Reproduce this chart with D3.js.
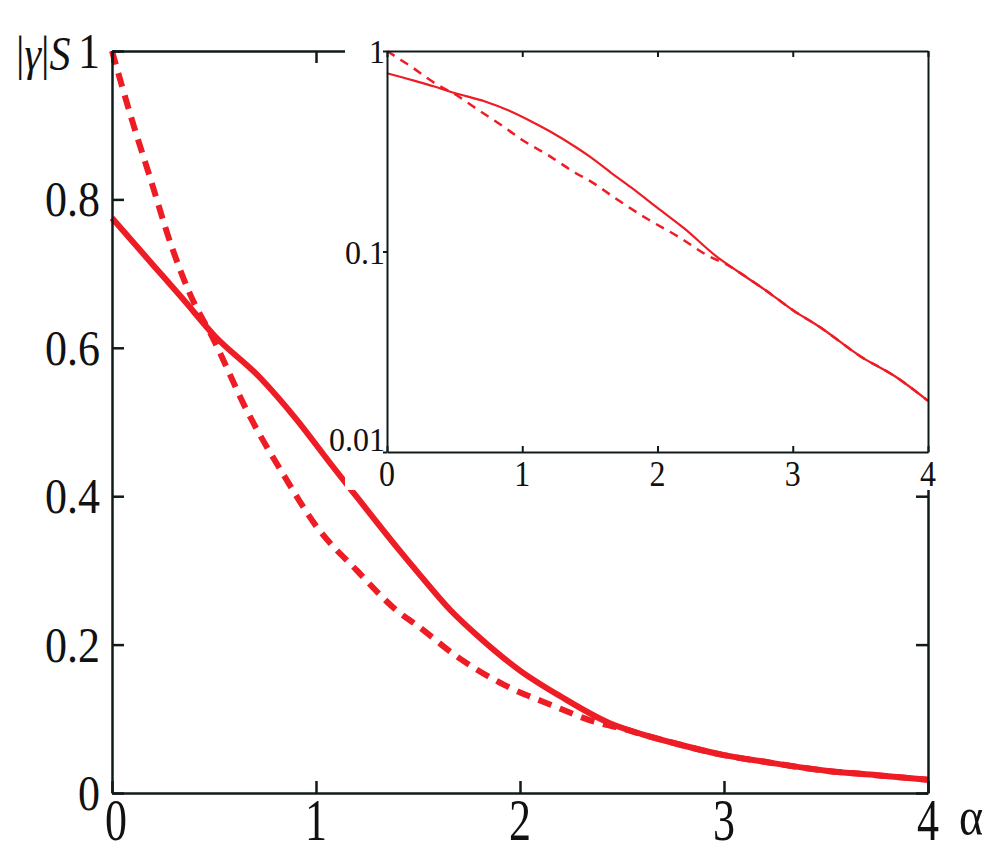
<!doctype html>
<html>
<head>
<meta charset="utf-8"/>
<style>
  html, body { margin: 0; padding: 0; background: #fff; }
  svg { display: block; }
</style>
<script src="https://d3js.org/d3.v7.min.js"></script>
</head>
<body>
<svg id="chart" width="1004" height="856"></svg>
<script>
  // alpha grid and the two curves
  var alphaSolid = [0, 0.2, 0.35, 0.5, 0.725, 0.9, 1.085, 1.2, 1.4, 1.5, 1.657, 1.8, 2.0, 2.2, 2.44, 2.6, 2.8, 3.0, 3.2, 3.5, 3.75, 4.0];
  var gammaSolid = [0.775, 0.712, 0.665, 0.617, 0.56, 0.505, 0.439, 0.399, 0.33, 0.297, 0.247, 0.21, 0.165, 0.13, 0.094, 0.079, 0.064, 0.051, 0.042, 0.030, 0.024, 0.018];

  var alphaDashed = [0, 0.1, 0.186, 0.293, 0.38, 0.5, 0.66, 0.856, 1.0, 1.2, 1.4, 1.5, 1.68, 1.92, 2.15, 2.39, 2.5, 2.6, 2.8, 3.0, 3.2, 3.5, 3.75, 4.0];
  var gammaDashed = [1.0, 0.905, 0.83, 0.736, 0.674, 0.61, 0.516, 0.422, 0.36, 0.30, 0.245, 0.225, 0.186, 0.146, 0.119, 0.094, 0.087, 0.079, 0.064, 0.051, 0.042, 0.030, 0.024, 0.018];

  var xTicks = [0, 1, 2, 3, 4];
  var yTicksMain = [0, 0.2, 0.4, 0.6, 0.8, 1];
  var yTicksInset = [0.01, 0.1, 1];

  var red = "#ee1c25";
  var ink = "#111a1a";

  // pick the first serif face that is really installed
  var ctx = document.createElement("canvas").getContext("2d");
  function widthIn(f) { ctx.font = "40px " + f; return ctx.measureText("0.18 αγS Wmw").width; }
  var fallback = widthIn("monospace");
  var serifFace = ["Liberation Serif", "Times New Roman", "Tinos", "DejaVu Serif"].find(function(f) {
    return widthIn("'" + f + "', monospace") !== fallback;
  }) || "serif";
  var fontFamily = "'" + serifFace + "', serif";

  var svg = d3.select("#chart");
  svg.append("rect").attr("width", 1004).attr("height", 856).attr("fill", "#fff");

  function zip(xs, ys) { return xs.map(function(a, i) { return [a, ys[i]]; }); }
  var solid = zip(alphaSolid, gammaSolid);
  var dashed = zip(alphaDashed, gammaDashed);

  // labels in the source are a little stretched vertically
  function stretched(g, px, py, sy, size, anchor, txt) {
    return g.append("text")
        .attr("transform", "translate(" + px + "," + py + ") scale(1," + sy + ")")
        .style("font-family", fontFamily).attr("fill", "#111")
        .attr("text-anchor", anchor).attr("font-size", size).text(txt);
  }

  // ---------- main plot ----------
  var x = d3.scaleLinear().domain([0, 4]).range([112, 928]);
  var y = d3.scaleLinear().domain([0, 1]).range([793, 51]);

  var main = svg.append("g");
  var line = d3.line().x(function(d) { return x(d[0]); }).y(function(d) { return y(d[1]); })
      .curve(d3.curveMonotoneX);

  main.append("path").attr("d", line(dashed)).attr("fill", "none")
      .attr("stroke", red).attr("stroke-width", 6).attr("stroke-dasharray", "14,9");
  main.append("path").attr("d", line(solid)).attr("fill", "none")
      .attr("stroke", red).attr("stroke-width", 6);

  main.append("g").attr("transform", "translate(0,793)")
      .call(d3.axisBottom(x).tickValues(xTicks).tickSizeInner(-12).tickSizeOuter(0).tickFormat(""));
  main.append("g").attr("transform", "translate(0,51)")
      .call(d3.axisTop(x).tickValues(xTicks).tickSizeInner(-12).tickSizeOuter(0).tickFormat(""));
  main.append("g").attr("transform", "translate(112,0)")
      .call(d3.axisLeft(y).tickValues(yTicksMain).tickSizeInner(-12).tickSizeOuter(0).tickFormat(""));
  main.append("g").attr("transform", "translate(928,0)")
      .call(d3.axisRight(y).tickValues(yTicksMain).tickSizeInner(-12).tickSizeOuter(0).tickFormat(""));
  main.selectAll(".domain, .tick line").attr("stroke", ink).attr("stroke-width", 2.5);

  xTicks.forEach(function(d) {
    stretched(main, x(d) + (d === 0 ? 4 : 0), 840, 1.35, 44, "middle", d);
  });
  yTicksMain.forEach(function(d) {
    var t = d === 0 ? "0" : d === 1 ? "1" : d3.format(".1f")(d);
    stretched(main, 100, y(d) + 17, 1.15, 44, "end", t);
  });

  stretched(main, 971, 834, 1.15, 46, "middle", "α");
  var lab = main.append("text").attr("transform", "translate(16,70) scale(1,1.15)")
      .style("font-family", fontFamily).attr("fill", "#111").attr("font-size", 42);
  lab.append("tspan").text("|");
  lab.append("tspan").attr("font-style", "italic").text("γ");
  lab.append("tspan").text("|");
  lab.append("tspan").attr("font-style", "italic").text("S");

  // ---------- inset (log scale) ----------
  var xi = d3.scaleLinear().domain([0, 4]).range([387, 928]);
  var yi = d3.scaleLog().domain([0.01, 1]).range([452, 51]);

  var inset = svg.append("g");
  inset.append("rect").attr("x", 345).attr("y", 40).attr("width", 595).attr("height", 450).attr("fill", "#fff");

  var lineI = d3.line().x(function(d) { return xi(d[0]); }).y(function(d) { return yi(d[1]); })
      .curve(d3.curveMonotoneX);
  inset.append("path").attr("d", lineI(dashed)).attr("fill", "none")
      .attr("stroke", red).attr("stroke-width", 2.5).attr("stroke-dasharray", "9,7");
  inset.append("path").attr("d", lineI(solid)).attr("fill", "none")
      .attr("stroke", red).attr("stroke-width", 2.2);

  inset.append("g").attr("transform", "translate(0,452)")
      .call(d3.axisBottom(xi).tickValues(xTicks).tickSizeInner(-6).tickSizeOuter(0).tickFormat(""));
  inset.append("g").attr("transform", "translate(0,51)")
      .call(d3.axisTop(xi).tickValues(xTicks).tickSizeInner(-6).tickSizeOuter(0).tickFormat(""));
  inset.append("g").attr("transform", "translate(387,0)")
      .call(d3.axisLeft(yi).tickValues(yTicksInset).tickSizeInner(4).tickSizeOuter(0).tickFormat(""));
  inset.append("g").attr("transform", "translate(928,0)")
      .call(d3.axisRight(yi).tickValues(yTicksInset).tickSizeInner(0).tickSizeOuter(0).tickFormat(""));
  inset.selectAll(".domain, .tick line").attr("stroke", ink).attr("stroke-width", 2);

  xTicks.forEach(function(d) {
    stretched(inset, xi(d), 486, 1.12, 32, "middle", d);
  });
  yTicksInset.forEach(function(d) {
    var t = d === 1 ? "1" : String(d);
    stretched(inset, 385, d === 0.01 ? 451 : yi(d) + 12, 1.05, 32, "end", t);
  });
</script>
</body>
</html>
